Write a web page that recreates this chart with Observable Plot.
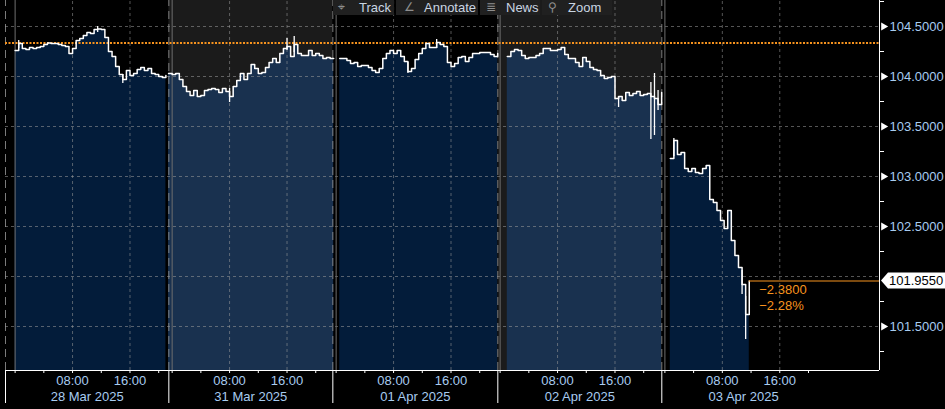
<!DOCTYPE html>
<html><head><meta charset="utf-8">
<script src="https://cdn.jsdelivr.net/npm/d3@7"></script>
<script src="https://cdn.jsdelivr.net/npm/@observablehq/plot@0.6"></script>
<style>
html,body{margin:0;padding:0;background:#000;}
#wrap{position:relative;width:945px;height:409px;overflow:hidden;background:#000;}
#toolbar{position:absolute;left:0;top:0;height:15px;width:945px;font:13px "Liberation Sans",Arial,sans-serif;color:#c9d5e2;pointer-events:none;}
#toolbar .seg{position:absolute;top:0;height:15px;background:#202020;}
#toolbar .ic{position:absolute;top:0;line-height:15px;color:#8e8e8e;font-family:"DejaVu Sans";font-size:12px;}
#toolbar .tx{position:absolute;top:0;line-height:15px;}
</style></head>
<body>
<div id="wrap"><div id="chart"></div>
<div id="toolbar">
  <div class="seg" style="left:333px;width:61px"><span class="ic" style="left:5px">⌖</span><span class="tx" style="left:26px">Track</span></div>
  <div class="seg" style="left:396px;width:82px"><span class="ic" style="left:8px">∠</span><span class="tx" style="left:28px">Annotate</span></div>
  <div class="seg" style="left:480px;width:60px"><span class="ic" style="left:6px">≣</span><span class="tx" style="left:26px">News</span></div>
  <div class="seg" style="left:542px;width:70px"><span class="ic" style="left:6px">⚲</span><span class="tx" style="left:26px">Zoom</span></div>
</div>
</div>
<script>
// ---- Data (DXY-like index, 30-minute closes per session) ----
const dayLabels = ["28 Mar 2025", "31 Mar 2025", "01 Apr 2025", "02 Apr 2025", "03 Apr 2025"];
// compressed-time position (hours) of each day's 00:00 and of each day boundary
const dayOrigin = [0, 21.87, 44.71, 67.55, 90.50];
const daySep = [-1.34, 21.41, 44.25, 67.23, 90.07];
const lastSessionHours = 22.8;
const dayStartHour = [0, -0.5, 0.5, 1, 0.75];
const stepHours = 0.5;

const closes28Mar = [104.26,104.33,104.28,104.27,104.29,104.28,104.29,104.30,104.32,104.335,104.33,104.33,104.32,104.31,104.30,104.23,104.28,104.36,104.38,104.41,104.44,104.43,104.47,104.475,104.47,104.39,104.25,104.20,104.10,104.02,103.97,104.06,104.01,104.03,104.07,104.09,104.06,104.08,104.03,104.02,104.00,103.99,104.01];
const closes31Mar = [104.03,104.02,104.03,103.97,103.90,103.85,103.81,103.86,103.80,103.81,103.86,103.87,103.88,103.87,103.84,103.88,103.85,103.80,103.90,103.96,104.03,103.97,104.03,104.12,104.08,104.03,104.04,104.09,104.14,104.18,104.14,104.23,104.28,104.30,104.20,104.32,104.23,104.21,104.21,104.26,104.21,104.23,104.21,104.18,104.19,104.18,104.18];
const closes01Apr = [104.18,104.18,104.16,104.13,104.14,104.10,104.11,104.11,104.09,104.06,104.04,104.08,104.18,104.23,104.26,104.23,104.26,104.20,104.15,104.05,104.08,104.17,104.23,104.28,104.33,104.29,104.29,104.34,104.32,104.30,104.14,104.10,104.13,104.19,104.20,104.15,104.19,104.23,104.23,104.24,104.24,104.24,104.22,104.20,104.23];
const closes02Apr = [104.20,104.25,104.27,104.26,104.21,104.18,104.19,104.19,104.21,104.23,104.28,104.28,104.26,104.26,104.27,104.29,104.22,104.18,104.18,104.14,104.10,104.19,104.15,104.09,104.07,104.06,104.01,103.98,103.99,104.00,103.78,103.80,103.76,103.84,103.81,103.83,103.85,103.81,103.82,103.83,103.80,103.78,103.72,103.84];
const closes03Apr = [103.18,103.36,103.22,103.24,103.08,103.05,103.08,103.04,103.03,103.08,103.11,102.77,102.74,102.66,102.56,102.48,102.66,102.36,102.21,102.09,101.92,101.62,101.955];
const dayCloses = [closes28Mar, closes31Mar, closes01Apr, closes02Apr, closes03Apr];

// intrabar extremes [day, hour, low, high]
const spikes = [
  [0, 0.5, 104.28, 104.36], [0, 11.5, 104.44, 104.50], [0, 15, 103.93, 104.02],
  [1, 8, 103.74, 103.88], [1, 16, 104.26, 104.38], [1, 17, 104.24, 104.40],
  [2, 10, 104.03, 104.14], [2, 14, 104.28, 104.37],
  [3, 16.5, 103.69, 103.80], [3, 21, 103.37, 103.94], [3, 21.5, 103.41, 104.03], [3, 22, 103.66, 103.86],
  [4, 1.25, 103.20, 103.38], [4, 10.75, 101.82, 102.06], [4, 11.25, 101.37, 101.80]
];

const prevClose = 104.335;
const lastClose = 101.955;
const yGridLevels = [101.5, 102, 102.5, 103, 103.5, 104, 104.5];
const yLabelLevels = [101.5, 102.5, 103, 103.5, 104, 104.5];
const yMinorLevels = [101.25, 101.75, 102.25, 102.75, 103.25, 103.75, 104.25, 104.75];
const tickHours = [0, 4, 8, 12, 16, 20];
const labelHours = [8, 16];
const gridHours = [8, 16];

// ---- derived tables ----
const yMin = 101.06, yMax = 104.76;
const xMin = -1.34, xMax = 120.39;
const rows = [];
dayCloses.forEach((arr, d) => arr.forEach((v, i) => rows.push({day: d, x: dayOrigin[d] + dayStartHour[d] + i * stepHours, v})));
const spikeRows = spikes.map(([d, h, lo, hi]) => ({x: dayOrigin[d] + h, lo, hi}));
const xTicks = dayOrigin.flatMap(o => tickHours.map(h => o + h));
const xLabelTicks = dayOrigin.flatMap(o => labelHours.map(h => o + h));
const xLabelMap = new Map();
dayOrigin.forEach(o => labelHours.forEach(h => xLabelMap.set(o + h, String(h).padStart(2, "0") + ":00")));
const vGrid = dayOrigin.flatMap(o => gridHours.map(h => o + h));
const dayCenters = daySep.map((s, d) => d < daySep.length - 1 ? (s + daySep[d + 1]) / 2 : s + lastSessionHours / 2);
const dateMap = new Map(dayCenters.map((c, d) => [c, dayLabels[d]]));
const lastRow = rows[rows.length - 1];
const change = lastClose - prevClose;
const pct = change / prevClose * 100;

const darkNavy = "#031c3a", lightNavy = "#19314f", bandGray = "#1b1b1b";
const axisBlue = "#a8ccf0", orange = "#f7931e";

const areaMarks = dayCloses.map((_, d) => Plot.areaY(rows.filter(r => r.day === d), {
  x: "x", y1: yMin, y2: "v", curve: "step-after", fill: d % 2 ? lightNavy : darkNavy
}));

const plot = Plot.plot({
  width: 945, height: 409,
  marginLeft: 5, marginRight: 66, marginTop: 0, marginBottom: 39,
  style: {background: "#000", color: "white", fontFamily: "'Liberation Sans', Arial, sans-serif", fontSize: "13px"},
  x: {type: "linear", domain: [xMin, xMax], label: null},
  y: {type: "linear", domain: [yMin, yMax], label: null},
  marks: [
    Plot.rect([1, 3], {x1: d => daySep[d], x2: d => daySep[d + 1], y1: yMin, y2: yMax, fill: bandGray}),
    ...areaMarks,
    Plot.ruleY(yGridLevels, {stroke: "#9a9a9a", strokeOpacity: 0.55, strokeDasharray: "3,3"}),
    Plot.ruleX(vGrid, {y1: yMin, y2: yMax, stroke: "#9a9a9a", strokeOpacity: 0.55, strokeDasharray: "3,3"}),
    Plot.ruleX(daySep, {y1: yMin, y2: yMax, stroke: "#9a9a9a", strokeOpacity: 0.8, strokeDasharray: "8,5"}),
    Plot.ruleX(dayOrigin, {y1: yMin, y2: yMax, stroke: "#6f6f6f"}),
    Plot.ruleY([prevClose], {stroke: orange, strokeWidth: 2, strokeDasharray: "2,1.5"}),
    Plot.ruleX(spikeRows, {x: "x", y1: "lo", y2: "hi", stroke: "white", strokeWidth: 1.3}),
    Plot.line(rows, {x: "x", y: "v", z: "day", curve: "step-after", stroke: "white", strokeWidth: 1.5}),
    Plot.ruleY([yMin], {stroke: "white"}),
    Plot.ruleX([xMax], {stroke: "white"}),
    Plot.axisX(xTicks, {tickSize: 3, fill: "none", stroke: "white", label: null}),
    Plot.axisX(daySep, {tickSize: 33, fill: "none", stroke: "white", label: null}),
    Plot.axisX(xLabelTicks, {tickSize: 0, tickPadding: 5, tickFormat: d => xLabelMap.get(d), fill: axisBlue, label: null}),
    Plot.axisX(dayCenters, {tickSize: 0, tickPadding: 21, tickFormat: d => dateMap.get(d), fill: axisBlue, label: null}),
    Plot.axisY(yMinorLevels, {anchor: "right", tickSize: 4, fill: "none", stroke: "white", label: null}),
    Plot.dot(yLabelLevels, {y: d => d, frameAnchor: "right", dx: 4, symbol: "triangle", rotate: 90, r: 3, fill: "white", stroke: "none"}),
    Plot.axisY(yLabelLevels, {anchor: "right", tickSize: 0, tickPadding: 10, tickFormat: d3.format(".4f"), fill: axisBlue, label: null}),
    Plot.ruleY([lastClose], {x1: lastRow.x, x2: xMax, stroke: orange, strokeWidth: 1.2}),
    Plot.text([d3.format(".4f")(change)], {x: lastRow.x, y: lastClose, text: d => d, dx: 10, dy: 9, textAnchor: "start", fill: orange}),
    Plot.text([d3.format(".2f")(pct) + "%"], {x: lastRow.x, y: lastClose, text: d => d, dx: 10, dy: 25, textAnchor: "start", fill: orange})
  ]
});

// current-price tag on the right axis
const svg = d3.select(plot);
const yy = plot.scale("y").apply(lastClose);
const xr = plot.scale("x").apply(xMax);
svg.append("path")
  .attr("d", `M${xr + 2},${yy}L${xr + 9},${yy - 8}H945V${yy + 8}H${xr + 9}Z`)
  .attr("fill", "white");
svg.append("text")
  .attr("x", xr + 10).attr("y", yy).attr("dy", "0.35em")
  .attr("text-anchor", "start")
  .attr("fill", "#000").attr("font-size", "13px")
  .text(d3.format(".4f")(lastClose));

document.getElementById("chart").appendChild(plot);
</script>
</body></html>
